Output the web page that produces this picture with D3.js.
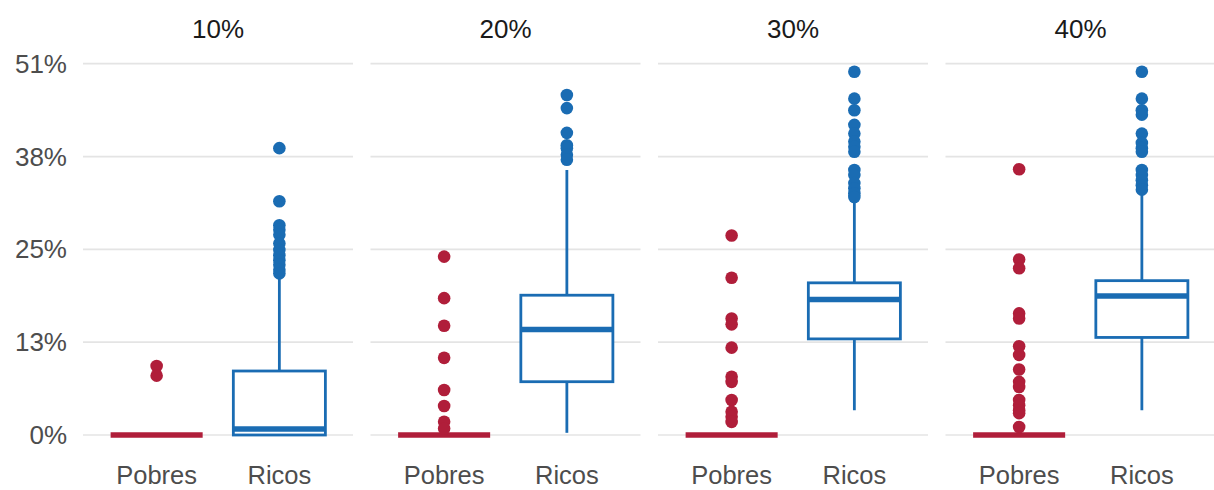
<!DOCTYPE html>
<html>
<head>
<meta charset="utf-8">
<script src="https://cdn.jsdelivr.net/npm/d3@7"></script>
<style>
  body { margin: 0; background: #fff; }
  text { font-family: "Liberation Sans", Arial, sans-serif; }
</style>
</head>
<body>
<svg id="chart" width="1214" height="490"></svg>
<script>
const facets = ["10%", "20%", "30%", "40%"];
const groups = ["Pobres", "Ricos"];
const yTicks = [0, 0.1275, 0.255, 0.3825, 0.51];
const yTickLabels = ["0%", "13%", "25%", "38%", "51%"];

// box summaries, one value per facet
const pobresQ1 = [0, 0, 0, 0];
const pobresMedian = [0, 0, 0, 0];
const pobresQ3 = [0, 0, 0, 0];
const pobresLow = [0, 0, 0, 0];
const pobresHigh = [0, 0, 0, 0];

const ricosQ1 = [0, 0.0732, 0.132, 0.134];
const ricosMedian = [0.0082, 0.145, 0.186, 0.191];
const ricosQ3 = [0.0879, 0.192, 0.209, 0.212];
const ricosLow = [0, 0.003, 0.034, 0.034];
const ricosHigh = [0.215, 0.364, 0.323, 0.33];

const pobresOutliers = [
  [0.0948, 0.0815],
  [0.245, 0.188, 0.15, 0.106, 0.0618, 0.0398, 0.0183, 0.009],
  [0.274, 0.216, 0.16, 0.152, 0.12, 0.08, 0.073, 0.048, 0.032, 0.025, 0.018],
  [0.365, 0.241, 0.229, 0.167, 0.16, 0.122, 0.11, 0.09, 0.073, 0.066,
   0.048, 0.041, 0.034, 0.03, 0.011],
];
const ricosOutliers = [
  [0.394, 0.321, 0.288, 0.282, 0.275, 0.263, 0.254, 0.247, 0.24, 0.234, 0.227, 0.222],
  [0.467, 0.449, 0.415, 0.398, 0.394, 0.385, 0.378],
  [0.499, 0.462, 0.446, 0.426, 0.414, 0.403, 0.396, 0.389, 0.364, 0.357,
   0.346, 0.339, 0.332, 0.327],
  [0.499, 0.462, 0.446, 0.44, 0.414, 0.401, 0.394, 0.389, 0.364, 0.357,
   0.35, 0.343, 0.337],
];

const colors = { Pobres: "#b01e3a", Ricos: "#1a6cb3" };

const boxes = [];
facets.forEach((f, i) => {
  boxes.push({ facet: f, group: "Pobres", q1: pobresQ1[i], med: pobresMedian[i], q3: pobresQ3[i],
    lo: pobresLow[i], hi: pobresHigh[i], out: pobresOutliers[i] });
  boxes.push({ facet: f, group: "Ricos", q1: ricosQ1[i], med: ricosMedian[i], q3: ricosQ3[i],
    lo: ricosLow[i], hi: ricosHigh[i], out: ricosOutliers[i] });
});

const svg = d3.select("#chart");
const margin = { top: 64, left: 83, right: -1.5, bottom: 55 };
const width = +svg.attr("width");
const height = +svg.attr("height");

const facetScale = d3
  .scaleBand()
  .domain(facets)
  .range([margin.left, width - margin.right])
  .paddingInner(17.5 / 287.5);

const xScale = d3
  .scalePoint()
  .domain(groups)
  .range([0, facetScale.bandwidth()])
  .padding(0.6);

const yScale = d3.scaleLinear().domain([0, 0.51]).range([435, 63.7]);

const boxWidth = xScale.step() * 0.75;

// y labels
svg
  .append("g")
  .selectAll("text")
  .data(yTicks)
  .enter()
  .append("text")
  .attr("x", 67)
  .attr("y", (d) => yScale(d))
  .attr("dy", "0.35em")
  .attr("text-anchor", "end")
  .attr("font-size", 26)
  .attr("fill", "#4d4d4d")
  .text((d, i) => yTickLabels[i]);

const panels = svg
  .selectAll(".panel")
  .data(facets)
  .enter()
  .append("g")
  .attr("class", "panel")
  .attr("transform", (d) => "translate(" + facetScale(d) + ",0)");

panels
  .selectAll(".grid")
  .data(yTicks)
  .enter()
  .append("line")
  .attr("class", "grid")
  .attr("x1", 0)
  .attr("x2", facetScale.bandwidth())
  .attr("y1", (d) => yScale(d))
  .attr("y2", (d) => yScale(d))
  .attr("stroke", "#e4e4e4")
  .attr("stroke-width", 1.7);

panels
  .append("text")
  .attr("x", facetScale.bandwidth() / 2)
  .attr("y", 38)
  .attr("text-anchor", "middle")
  .attr("font-size", 26)
  .attr("fill", "#1a1a1a")
  .text((d) => d);

panels
  .selectAll(".xlab")
  .data(groups)
  .enter()
  .append("text")
  .attr("class", "xlab")
  .attr("x", (d) => xScale(d))
  .attr("y", 484)
  .attr("text-anchor", "middle")
  .attr("font-size", 25.5)
  .attr("fill", "#4d4d4d")
  .text((d) => d);

const boxG = panels
  .selectAll(".box")
  .data((f) => boxes.filter((b) => b.facet === f))
  .enter()
  .append("g")
  .attr("class", "box")
  .attr("transform", (d) => "translate(" + xScale(d.group) + ",0)");

boxG
  .append("line")
  .attr("y1", (d) => yScale(d.q3))
  .attr("y2", (d) => yScale(d.hi))
  .attr("stroke", (d) => colors[d.group])
  .attr("stroke-width", 2.8);

boxG
  .append("line")
  .attr("y1", (d) => yScale(d.q1))
  .attr("y2", (d) => yScale(d.lo))
  .attr("stroke", (d) => colors[d.group])
  .attr("stroke-width", 2.8);

boxG
  .append("rect")
  .attr("x", -boxWidth / 2)
  .attr("width", boxWidth)
  .attr("y", (d) => yScale(d.q3))
  .attr("height", (d) => yScale(d.q1) - yScale(d.q3))
  .attr("fill", "#fff")
  .attr("stroke", (d) => colors[d.group])
  .attr("stroke-width", 2.8);

boxG
  .append("line")
  .attr("x1", -boxWidth / 2)
  .attr("x2", boxWidth / 2)
  .attr("y1", (d) => yScale(d.med))
  .attr("y2", (d) => yScale(d.med))
  .attr("stroke", (d) => colors[d.group])
  .attr("stroke-width", 5.5);

boxG
  .selectAll("circle")
  .data((d) => d.out.map((v) => ({ v: v, group: d.group })))
  .enter()
  .append("circle")
  .attr("cx", 0)
  .attr("cy", (d) => yScale(d.v))
  .attr("r", 6.3)
  .attr("fill", (d) => colors[d.group]);
</script>
</body>
</html>
